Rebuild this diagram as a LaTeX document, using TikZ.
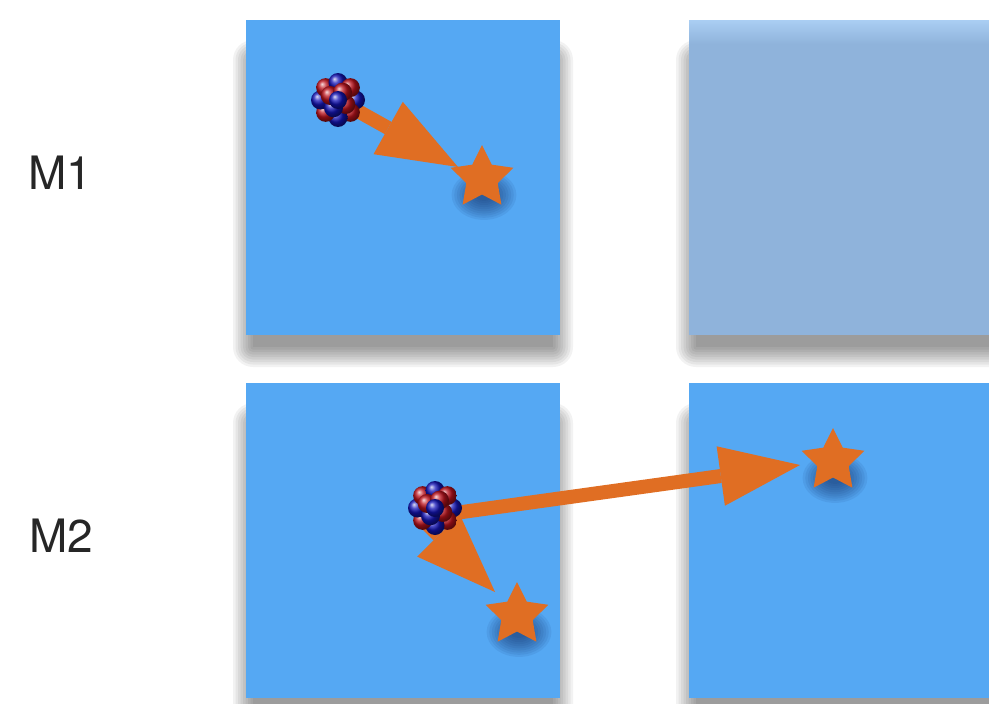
\documentclass[tikz,border=0pt]{standalone}
\usepackage{fontspec}
\setmainfont{TeX Gyre Heros}
\usetikzlibrary{arrows.meta,shapes.geometric}

\definecolor{panel}{RGB}{85,168,243}
\definecolor{panelfade}{RGB}{143,179,219}
\definecolor{panelfadetop}{RGB}{170,206,243}
\definecolor{flame}{RGB}{224,110,35}
\definecolor{protonred}{RGB}{190,18,28}
\definecolor{neutronblue}{RGB}{20,20,185}
\definecolor{starshade}{RGB}{15,40,95}

\tikzset{
  panelbox/.style={rectangle, inner sep=0pt, minimum width=314pt, minimum height=315pt,
    fill=panel},
  fadedbox/.style={panelbox, fill=panelfade},
  boxshade/.style={fill=black, opacity=0.05},
  label/.style={font=\fontsize{46}{50}\selectfont, text=black!85},
  starmark/.style={star, star points=5, star point ratio=2.0, inner sep=0pt,
    minimum size=66pt, fill=flame},
  starglow/.style={fill=starshade, opacity=0.08},
  atom/.style={circle, minimum size=56pt, inner sep=0pt},
  jump/.style={draw=flame, line width=14pt,
    -{Triangle[length=80pt, width=60pt, line width=0pt]}},
  nucleus/.pic={
    \foreach \a/\c in {0/neutronblue,45/protonred,90/neutronblue,135/protonred,
                       180/neutronblue,225/protonred,270/neutronblue,315/protonred}
      \shade[ball color=\c] (\a:17.5) circle (9.5);
    \foreach \a/\c in {30/protonred,120/neutronblue,210/protonred,300/protonred}
      \shade[ball color=\c] (\a:9) circle (9.5);
    \shade[ball color=neutronblue] (0,0) circle (9);
  }
}

\begin{document}
\begin{tikzpicture}[x=1pt, y=-1pt]
  \useasboundingbox (0,0) rectangle (989,704);
  \clip (0,0) rectangle (989,704);
  \fill[white] (0,0) rectangle (989,704);

  % row labels
  \node[label] (m1) at (60,173) {M1};
  \node[label] (m2) at (61,536) {M2};

  % soft drop shadows of the panels
  \foreach \xa/\ya/\xb/\yb in {246/20/560/335, 689/20/1003/335,
                               246/383/560/698, 689/383/1003/698}
    \foreach \e in {0,2.5,...,20}
      \fill[boxshade, rounded corners=\e pt]
        (\xa+7-\e, \ya+40-\e) rectangle (\xb-7+\e, \yb+12+\e);

  % panels
  \node[panelbox] (p11) at (403,177.5) {};
  \node[fadedbox] (p12) at (846,177.5) {};
  \shade[top color=panelfadetop, bottom color=panelfade] (689,20) rectangle (1003,44);
  \node[panelbox] (p21) at (403,540.5) {};
  \node[panelbox] (p22) at (846,540.5) {};

  % soft shadows under the stars
  \foreach \sx/\sy in {482/178, 517/615, 833/461}
    \foreach \k in {0,...,9}
      \fill[starglow] (\sx+2,\sy+17) ellipse ({9+2.6*\k} and {6+2.1*\k});

  % stars
  \node[starmark] (s1) at (482,178) {};
  \node[starmark] (s2) at (517,615) {};
  \node[starmark] (s3) at (833,461) {};

  % nuclei positions
  \node[atom] (n1) at (338,100) {};
  \node[atom] (n2) at (435,508) {};

  % arrow end points
  \coordinate (t1) at (458,167);
  \coordinate (a2) at (423,520);
  \coordinate (t2) at (495,592);
  \coordinate (a3) at (455,513);
  \coordinate (t3) at (800,465);

  % transitions
  \draw[jump] (n1.center) -- (t1);
  \draw[jump] (a2) -- (t2);
  \draw[jump] (a3) -- (t3);

  % nuclei
  \pic at (n1) {nucleus};
  \pic at (n2) {nucleus};
\end{tikzpicture}
\end{document}
